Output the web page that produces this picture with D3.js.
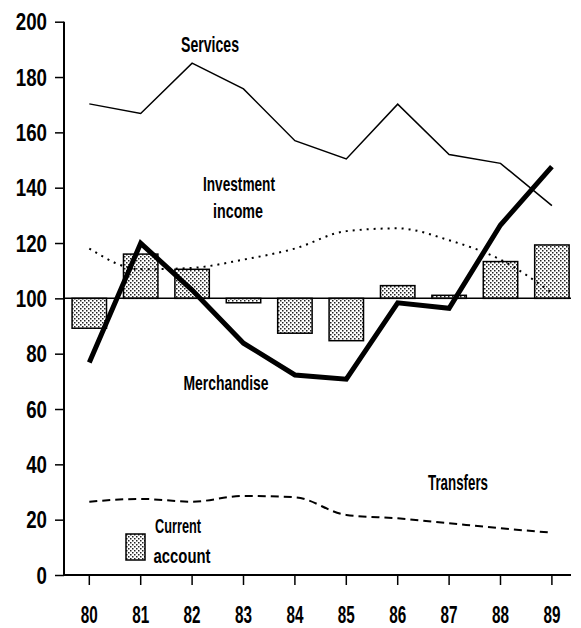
<!DOCTYPE html>
<html>
<head>
<meta charset="utf-8">
<script src="https://cdn.jsdelivr.net/npm/d3@7"></script>
<style>
  html, body { margin: 0; padding: 0; background: #fff; }
  svg { display: block; }
  text { font-family: "Liberation Sans", Arial, sans-serif; fill: #000; }
</style>
</head>
<body>
<script>
const years = ["80","81","82","83","84","85","86","87","88","89"];
const yTicks = [0,20,40,60,80,100,120,140,160,180,200];
const services = [170.3,166.8,185,175.7,157,150.4,170.2,152,148.8,133.5];
const merchandise = [76.8,119.9,103,83.8,72.3,70.8,98.4,96.4,126.5,147.6];
const investment = [118,110.5,111,114,118,124.3,125.3,121,114,102];
const transfers = [26.5,27.5,26.5,28.6,28.1,21.7,20.5,18.7,16.9,15.3];
const currentAccount = [89.2,116,110.5,98.4,87.4,84.7,104.6,101.1,113.3,119.3];
const baseValue = 100;

const W = 581, H = 628;
const svg = d3.select("body").append("svg").attr("width", W).attr("height", H);

const defs = svg.append("defs");
const pat = defs.append("pattern").attr("id","stipple").attr("patternUnits","userSpaceOnUse")
  .attr("width",4).attr("height",4);
pat.append("rect").attr("width",4).attr("height",4).attr("fill","#fff");
pat.append("rect").attr("x",0).attr("y",0).attr("width",1.5).attr("height",1.5).attr("fill","#222");
pat.append("rect").attr("x",2).attr("y",2).attr("width",1.5).attr("height",1.5).attr("fill","#222");

const x = d3.scaleBand().domain(years).range([63.6, 577.6]).paddingInner(0.33).paddingOuter(0.165);
const y = d3.scaleLinear().domain([0,200]).range([575, 21.7]);
const cx = d => x(d) + x.bandwidth()/2;

// bars
svg.append("g").selectAll("rect").data(years).join("rect")
  .attr("x", d => x(d))
  .attr("width", x.bandwidth())
  .attr("y", (d,i) => y(Math.max(currentAccount[i], baseValue)))
  .attr("height", (d,i) => Math.abs(y(currentAccount[i]) - y(baseValue)))
  .attr("fill","url(#stipple)").attr("stroke","#000").attr("stroke-width",1.5);

// baseline 100
svg.append("line").attr("x1",64).attr("x2",571).attr("y1",y(baseValue)).attr("y2",y(baseValue))
  .attr("stroke","#000").attr("stroke-width",1.5);

// axes
const yAxis = d3.axisLeft(y).tickValues(yTicks).tickSize(9).tickPadding(8).tickSizeOuter(0);
const gy = svg.append("g").attr("transform","translate(64,0)").call(yAxis);
gy.select(".domain").remove();
gy.selectAll(".tick line").attr("stroke","#000").attr("stroke-width",1.5);
gy.selectAll(".tick text").attr("font-size",23).attr("font-weight","bold")
  .attr("font-family","'Liberation Sans',Arial,sans-serif").attr("dy","0.36em")
  .attr("textLength", function() { return this.textContent.length * 10.4; })
  .attr("lengthAdjust","spacingAndGlyphs");
svg.append("line").attr("x1",64).attr("x2",64).attr("y1",y(200)).attr("y2",y(0)+1)
  .attr("stroke","#000").attr("stroke-width",2);

const xAxis = d3.axisBottom(x).tickSize(10).tickSizeOuter(0);
const gx = svg.append("g").attr("transform","translate(0,575)").call(xAxis);
gx.select(".domain").remove();
gx.selectAll(".tick line").attr("stroke","#000").attr("stroke-width",1.5);
gx.selectAll(".tick text").attr("font-size",23).attr("font-weight","bold")
  .attr("font-family","'Liberation Sans',Arial,sans-serif")
  .attr("y",47.5).attr("dy",0)
  .attr("textLength",17).attr("lengthAdjust","spacingAndGlyphs");
svg.append("line").attr("x1",63).attr("x2",571).attr("y1",575).attr("y2",575)
  .attr("stroke","#000").attr("stroke-width",2);

// lines
const lineLin = d3.line().x((d,i) => cx(years[i])).y(d => y(d));
const lineSmooth = d3.line().x((d,i) => cx(years[i])).y(d => y(d)).curve(d3.curveMonotoneX);

svg.append("path").attr("d", lineSmooth(investment)).attr("fill","none")
  .attr("stroke","#000").attr("stroke-width",2).attr("stroke-dasharray","2,5");
svg.append("path").attr("d", lineSmooth(transfers)).attr("fill","none")
  .attr("stroke","#000").attr("stroke-width",2).attr("stroke-dasharray","8,5");
svg.append("path").attr("d", lineLin(services)).attr("fill","none")
  .attr("stroke","#000").attr("stroke-width",1.5).attr("stroke-linejoin","miter");
svg.append("path").attr("d", lineLin(merchandise)).attr("fill","none")
  .attr("stroke","#000").attr("stroke-width",5).attr("stroke-linejoin","miter");

// labels
function label(t, xc, yb, w, fs) {
  svg.append("text").attr("x", xc).attr("y", yb).attr("text-anchor","middle")
    .attr("font-size", fs).attr("font-weight","bold")
    .attr("textLength", w).attr("lengthAdjust","spacingAndGlyphs").text(t);
}
label("Services", 210, 52, 58, 22);
label("Investment", 239, 191, 72, 21);
label("income", 238, 218, 50, 21);
label("Merchandise", 226, 390, 85, 21);
label("Transfers", 458, 490, 60, 22);
label("Current", 178, 533, 46, 21);
label("account", 182, 563, 57, 21);

// legend swatch
svg.append("rect").attr("x",126).attr("y",534).attr("width",19).attr("height",26)
  .attr("fill","url(#stipple)").attr("stroke","#000").attr("stroke-width",1.5);
</script>
</body>
</html>
